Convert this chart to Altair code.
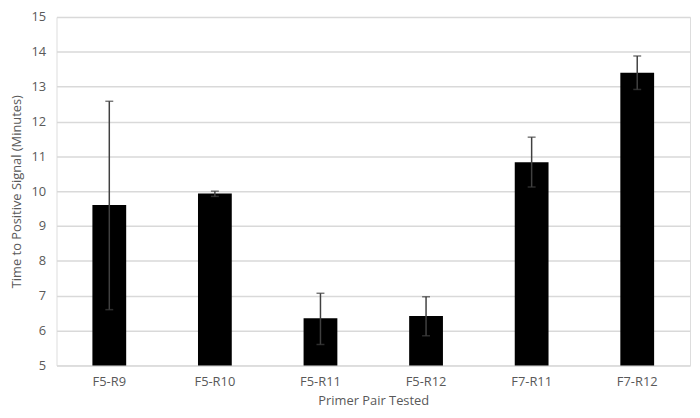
import altair as alt
import pandas as pd

pairs = ["F5-R9", "F5-R10", "F5-R11", "F5-R12", "F7-R11", "F7-R12"]
means = [9.6, 9.93, 6.35, 6.42, 10.83, 13.4]
err_low = [6.6, 9.85, 5.6, 5.85, 10.12, 12.92]
err_high = [12.58, 10.0, 7.07, 6.97, 11.55, 13.88]

df = pd.DataFrame({"pair": pairs, "mean": means, "lo": err_low, "hi": err_high})

FONT = "Open Sans"
GRAY = "#595959"
XT = "Primer Pair Tested"
YT = "Time to Positive Signal (Minutes)"

xaxis = alt.Axis(labelAngle=0, labelPadding=10, titlePadding=7)
yaxis = alt.Axis(values=list(range(5, 16)), labelPadding=11, titlePadding=7,
                 labelOverlap=False, gridColor="#d9d9d9", gridWidth=1.5)
xscale = alt.Scale(paddingInner=0.68, paddingOuter=0.34)
yscale = alt.Scale(domain=[5, 15], nice=False, zero=False)


def X():
    return alt.X("pair:N", sort=pairs, title=XT, scale=xscale, axis=xaxis)


def Y(field):
    return alt.Y(field, scale=yscale, title=YT, axis=yaxis)


bars = alt.Chart(df).mark_bar(color="black").encode(
    x=X(), y=Y("mean:Q"), y2=alt.datum(5),
)
rules = alt.Chart(df).mark_rule(color="#404040", strokeWidth=1.5).encode(
    x=X(), y=Y("lo:Q"), y2="hi:Q"
)
cap_lo = alt.Chart(df).mark_tick(color="#404040", size=8, thickness=1.5).encode(
    x=X(), y=Y("lo:Q")
)
cap_hi = alt.Chart(df).mark_tick(color="#404040", size=8, thickness=1.5).encode(
    x=X(), y=Y("hi:Q")
)

chart = alt.layer(bars, rules, cap_lo, cap_hi).properties(
    width=640, height=352, padding={"left": 3, "top": 1, "right": 2, "bottom": 0}
).configure_view(stroke=None).configure(background="white").configure_axis(
    ticks=False, domain=False, labelFontSize=13, labelColor=GRAY, titleFontSize=13,
    titleColor=GRAY, titleFontWeight="normal", labelFont=FONT, titleFont=FONT
)

chart.save("out.html", embed_options={"renderer": "svg", "actions": False})
